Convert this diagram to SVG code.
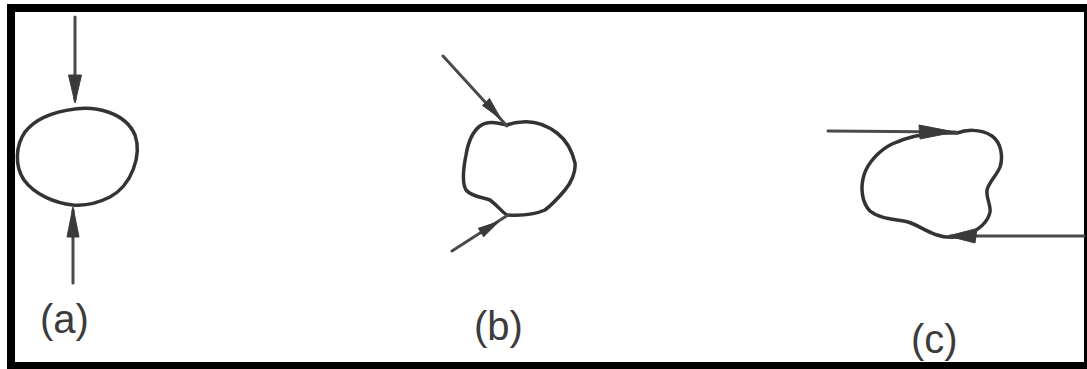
<svg xmlns="http://www.w3.org/2000/svg" width="1087" height="369" viewBox="0 0 1087 369">
<style>
.outline{fill:none;stroke:#333;stroke-width:3.5;stroke-linejoin:round;stroke-linecap:round}
.line{fill:none;stroke:#4a4a4a;stroke-width:3;stroke-linecap:round}
.head{fill:#3a3a3a;stroke:#3a3a3a;stroke-width:1;stroke-linejoin:round}
.label{font-family:"Liberation Sans",Arial,sans-serif;font-size:40px;fill:#3c3c3c}
</style>
<rect x="0" y="0" width="1087" height="369" fill="#fff"/>
<rect id="frame" x="11" y="8" width="1077" height="358" fill="none" stroke="#000" stroke-width="8"/>
<g id="node-a">
<path class="outline" d="M75,109 C95,106 125,112 135,135 C142,155 132,185 110,197 C98,203 85,206 73,205 C55,203 35,195 24,180 C14,165 16,145 25,132 C35,119 52,112 75,109 Z"/>
<text class="label" x="40" y="333">(a)</text>
</g>
<g id="node-b">
<path class="outline" d="M507,125 C512,123 516,122 522,122 C532,121 545,124 557,133 C566,140 572,150 575,163 C576,172 571,183 565,190 C559,197 553,204 545,210 C536,214 522,216 507,215 C502,212 498,206 490,200 C482,197 472,197 466,190 C462,183 463,170 466,155 C468,143 472,132 480,126 C488,120 498,123 507,125 Z"/>
<text class="label" x="474" y="340">(b)</text>
</g>
<g id="node-c">
<path class="outline" d="M957,133 C965,130 980,128 992,136 C1002,143 1003,158 1000,167 C997,175 989,182 987,190 C986,198 991,205 990,212 C988,222 978,230 967,235 C957,238 945,238 937,235 C925,231 918,225 908,222 C895,219 880,219 870,211 C862,203 860,188 864,175 C868,162 880,150 892,144 C905,138 922,134 937,133 C945,133 952,133 957,133 Z"/>
<text class="label" x="911" y="353">(c)</text>
</g>
<g id="connectors">
<line class="line" x1="75" y1="17" x2="75" y2="100"/>
<polygon class="head" points="68.5,75 81.5,75 75,103"/>
<line class="line" x1="73" y1="283" x2="73" y2="210"/>
<polygon class="head" points="67,237 79,237 73,207"/>
<line class="line" x1="443" y1="56" x2="507" y2="126"/>
<polygon class="head" points="482.5,105.5 489.5,98.5 501,119"/>
<line class="line" x1="452" y1="251" x2="508" y2="215"/>
<polygon class="head" points="483.7,236.7 478.3,228.3 499,221.5"/>
<line class="line" x1="828" y1="131" x2="956" y2="132"/>
<polygon class="head" points="919,125 955,132 920,139"/>
<line class="line" x1="950" y1="236" x2="1084" y2="236"/>
<polygon class="head" points="948,236 977,228.5 975,243"/>
</g>
</svg>
